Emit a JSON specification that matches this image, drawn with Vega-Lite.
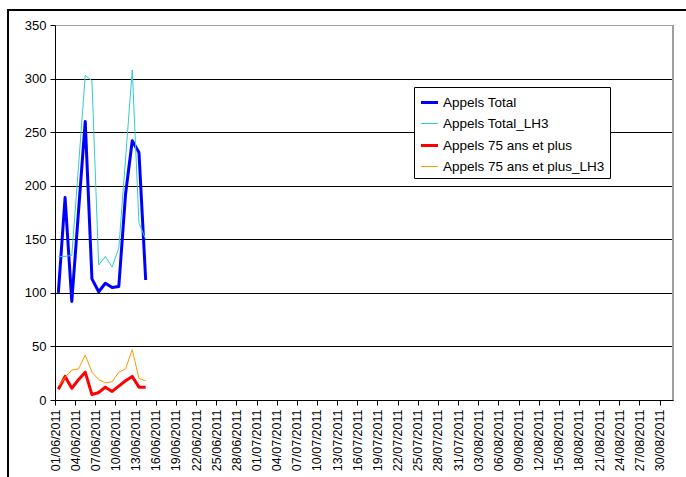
{
  "$schema": "https://vega.github.io/schema/vega-lite/v6.json",
  "width": 690,
  "height": 480,
  "autosize": {"type": "none"},
  "padding": {"left": 8, "top": 10, "right": 0, "bottom": 0},
  "background": "white",
  "config": {
    "view": {"stroke": "#000000", "strokeWidth": 2},
    "font": "Liberation Sans",
    "axis": {
      "labelFont": "Liberation Sans",
      "labelColor": "#000000",
      "domainColor": "#000000",
      "tickColor": "#000000",
      "tickSize": 5,
      "title": null
    }
  },
  "data": {
    "values": [
      {"date": "2011-06-01T00:00:00", "Appels Total": 100, "Appels Total_LH3": 134, "Appels 75 ans et plus": 10, "Appels 75 ans et plus_LH3": 13},
      {"date": "2011-06-02T00:00:00", "Appels Total": 189, "Appels Total_LH3": 134, "Appels 75 ans et plus": 22, "Appels 75 ans et plus_LH3": 21},
      {"date": "2011-06-03T00:00:00", "Appels Total": 92, "Appels Total_LH3": 135, "Appels 75 ans et plus": 11, "Appels 75 ans et plus_LH3": 28},
      {"date": "2011-06-04T00:00:00", "Appels Total": 176, "Appels Total_LH3": 218, "Appels 75 ans et plus": 19, "Appels 75 ans et plus_LH3": 29},
      {"date": "2011-06-05T00:00:00", "Appels Total": 260, "Appels Total_LH3": 303, "Appels 75 ans et plus": 26, "Appels 75 ans et plus_LH3": 42},
      {"date": "2011-06-06T00:00:00", "Appels Total": 113, "Appels Total_LH3": 298, "Appels 75 ans et plus": 5, "Appels 75 ans et plus_LH3": 26},
      {"date": "2011-06-07T00:00:00", "Appels Total": 101, "Appels Total_LH3": 126, "Appels 75 ans et plus": 7, "Appels 75 ans et plus_LH3": 19},
      {"date": "2011-06-08T00:00:00", "Appels Total": 109, "Appels Total_LH3": 134, "Appels 75 ans et plus": 12, "Appels 75 ans et plus_LH3": 16},
      {"date": "2011-06-09T00:00:00", "Appels Total": 105, "Appels Total_LH3": 124, "Appels 75 ans et plus": 8, "Appels 75 ans et plus_LH3": 17},
      {"date": "2011-06-10T00:00:00", "Appels Total": 106, "Appels Total_LH3": 142, "Appels 75 ans et plus": 13, "Appels 75 ans et plus_LH3": 26},
      {"date": "2011-06-11T00:00:00", "Appels Total": 192, "Appels Total_LH3": 225, "Appels 75 ans et plus": 18, "Appels 75 ans et plus_LH3": 29},
      {"date": "2011-06-12T00:00:00", "Appels Total": 242, "Appels Total_LH3": 308, "Appels 75 ans et plus": 22, "Appels 75 ans et plus_LH3": 47},
      {"date": "2011-06-13T00:00:00", "Appels Total": 231, "Appels Total_LH3": 165, "Appels 75 ans et plus": 12, "Appels 75 ans et plus_LH3": 20},
      {"date": "2011-06-14T00:00:00", "Appels Total": 112, "Appels Total_LH3": 150, "Appels 75 ans et plus": 12, "Appels 75 ans et plus_LH3": 18}
    ]
  },
  "layer": [
    {
      "transform": [
        {"fold": ["Appels Total", "Appels Total_LH3", "Appels 75 ans et plus", "Appels 75 ans et plus_LH3"], "as": ["serie", "value"]}
      ],
      "mark": {"type": "line", "strokeJoin": "round"},
      "encoding": {
        "x": {
          "field": "date",
          "type": "temporal",
          "timeUnit": "yearmonthdate",
          "bandPosition": 0.5,
          "scale": {
            "domain": [{"year": 2011, "month": 6, "date": 1}, {"year": 2011, "month": 9, "date": 1}],
            "range": [47, 665]
          },
          "axis": {
            "orient": "bottom",
            "offset": -90,
            "grid": false,
            "tickCount": 100,
            "values": [
              {"year": 2011, "month": 6, "date": 1}, {"year": 2011, "month": 6, "date": 4}, {"year": 2011, "month": 6, "date": 7},
              {"year": 2011, "month": 6, "date": 10}, {"year": 2011, "month": 6, "date": 13}, {"year": 2011, "month": 6, "date": 16},
              {"year": 2011, "month": 6, "date": 19}, {"year": 2011, "month": 6, "date": 22}, {"year": 2011, "month": 6, "date": 25},
              {"year": 2011, "month": 6, "date": 28}, {"year": 2011, "month": 7, "date": 1}, {"year": 2011, "month": 7, "date": 4},
              {"year": 2011, "month": 7, "date": 7}, {"year": 2011, "month": 7, "date": 10}, {"year": 2011, "month": 7, "date": 13},
              {"year": 2011, "month": 7, "date": 16}, {"year": 2011, "month": 7, "date": 19}, {"year": 2011, "month": 7, "date": 22},
              {"year": 2011, "month": 7, "date": 25}, {"year": 2011, "month": 7, "date": 28}, {"year": 2011, "month": 7, "date": 31},
              {"year": 2011, "month": 8, "date": 3}, {"year": 2011, "month": 8, "date": 6}, {"year": 2011, "month": 8, "date": 9},
              {"year": 2011, "month": 8, "date": 12}, {"year": 2011, "month": 8, "date": 15}, {"year": 2011, "month": 8, "date": 18},
              {"year": 2011, "month": 8, "date": 21}, {"year": 2011, "month": 8, "date": 24}, {"year": 2011, "month": 8, "date": 27},
              {"year": 2011, "month": 8, "date": 30}
            ],
            "format": "%d/%m/%Y",
            "formatType": "time",
            "labelAngle": 270,
            "labelFontSize": 12.5,
            "labelPadding": 4,
            "labelOverlap": false,
            "labelFlush": false
          }
        },
        "y": {
          "field": "value",
          "type": "quantitative",
          "scale": {"domain": [0, 350], "range": [390, 15], "nice": false, "zero": true},
          "axis": {
            "orient": "left",
            "offset": -47,
            "values": [0, 50, 100, 150, 200, 250, 300, 350],
            "tickCount": 20,
            "grid": true,
            "gridColor": {"condition": {"test": "datum.value === 350", "value": "#a0a0a0"}, "value": "#000000"},
            "gridWidth": 1,
            "labelFontSize": 13,
            "labelPadding": 4,
            "labelFlush": false
          }
        },
        "color": {
          "field": "serie",
          "type": "nominal",
          "scale": {
            "domain": ["Appels Total", "Appels Total_LH3", "Appels 75 ans et plus", "Appels 75 ans et plus_LH3"],
            "range": ["#0000FF", "#33CCCC", "#FF0000", "#FF9900"]
          },
          "legend": {
            "orient": "none",
            "legendX": 406,
            "legendY": 77,
            "title": null,
            "direction": "vertical",
            "strokeColor": "#000000",
            "fillColor": "#FFFFFF",
            "padding": 5,
            "cornerRadius": 0,
            "symbolType": "stroke",
            "symbolSize": 290,
            "labelFont": "Liberation Sans",
            "labelFontSize": 13.5,
            "labelLimit": 400,
            "labelColor": "#000000",
            "labelOffset": 3,
            "rowPadding": 5
          }
        },
        "strokeWidth": {
          "field": "serie",
          "type": "nominal",
          "scale": {
            "type": "ordinal",
            "domain": ["Appels Total", "Appels Total_LH3", "Appels 75 ans et plus", "Appels 75 ans et plus_LH3"],
            "range": [3, 1, 3, 1]
          }
        }
      }
    },
    {
      "mark": {"type": "rule", "color": "#a0a0a0", "strokeWidth": 1.5},
      "encoding": {
        "x": {"datum": {"year": 2011, "month": 9, "date": 1}, "type": "temporal"},
        "y": {"datum": 0},
        "y2": {"datum": 350}
      }
    }
  ]
}
